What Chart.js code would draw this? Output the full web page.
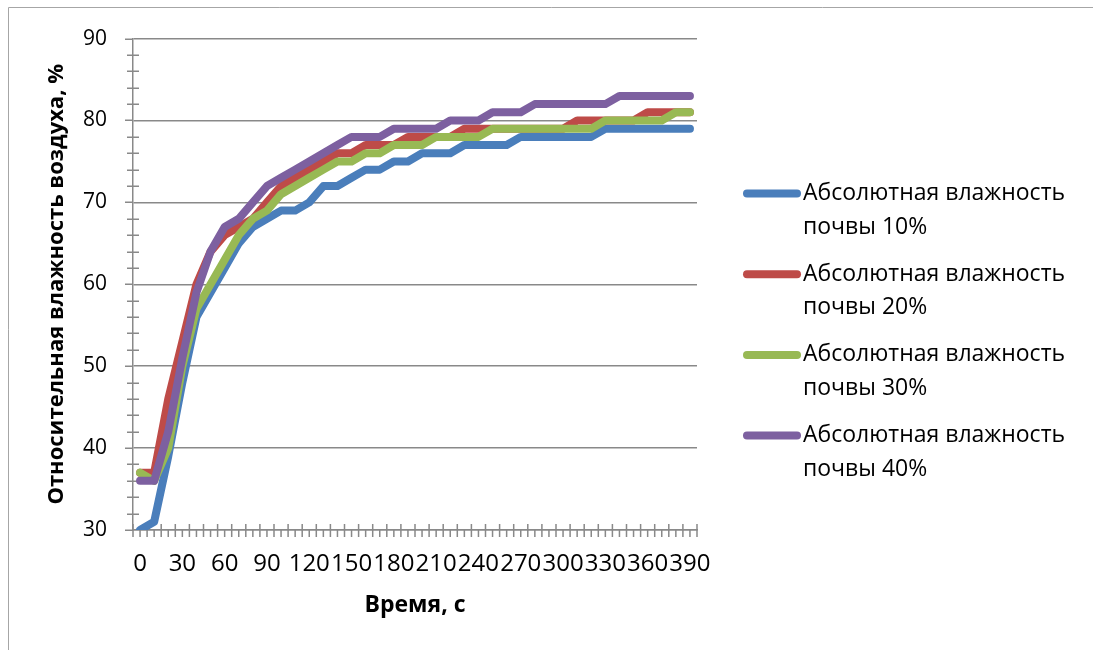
<!DOCTYPE html>
<html>
<head>
<meta charset="utf-8">
<script src="https://cdn.jsdelivr.net/npm/chart.js@4.4.1/dist/chart.umd.min.js"></script>
<style>
html,body{margin:0;padding:0;background:#fff;}
#wrap{position:relative;width:1093px;height:650px;}
</style>
</head>
<body>
<div id="wrap"><canvas id="c"></canvas></div>
<script>
// ---- data ----
const times = [0,10,20,30,40,50,60,70,80,90,100,110,120,130,140,150,160,170,180,190,200,210,220,230,240,250,260,270,280,290,300,310,320,330,340,350,360,370,380,390];
const soil10 = [30,31,39,48,56,59,62,65,67,68,69,69,70,72,72,73,74,74,75,75,76,76,76,77,77,77,77,78,78,78,78,78,78,79,79,79,79,79,79,79];
const soil20 = [37,37,46,53,60,64,66,67,68,70,72,73,74,75,76,76,77,77,77,78,78,78,78,79,79,79,79,79,79,79,79,80,80,80,80,80,81,81,81,81];
const soil30 = [37,36,40,50,57,60,63,66,68,69,71,72,73,74,75,75,76,76,77,77,77,78,78,78,78,79,79,79,79,79,79,79,79,80,80,80,80,80,81,81];
const soil40 = [36,36,42,51,59,64,67,68,70,72,73,74,75,76,77,78,78,78,79,79,79,79,80,80,80,81,81,81,82,82,82,82,82,82,83,83,83,83,83,83];
const seriesNames = [
  ['Абсолютная влажность','почвы 10%'],
  ['Абсолютная влажность','почвы 20%'],
  ['Абсолютная влажность','почвы 30%'],
  ['Абсолютная влажность','почвы 40%']
];
const seriesColors = ['#4A7EBB','#BE4B48','#98B954','#7D60A0'];
const yTitle = 'Относительная влажность воздуха, %';
const xTitle = 'Время, с';
const yMin = 30, yMax = 90, yStep = 10, yMinorStep = 2;
const xLabelEvery = 3;

const gridColor = '#898989';
const FONT = "'Open Sans', 'DejaVu Sans', sans-serif";
Chart.defaults.font.family = FONT;
Chart.defaults.color = '#000';

const values = [soil10, soil20, soil30, soil40];

const decor = {
  id: 'decor',
  beforeDraw(chart) {
    const ctx = chart.ctx;
    ctx.save();
    ctx.strokeStyle = '#a6a6a6';
    ctx.lineWidth = 1;
    ctx.beginPath();
    ctx.moveTo(8.5, 700);
    ctx.lineTo(8.5, 7.5);
    ctx.lineTo(1200, 7.5);
    ctx.stroke();
    ctx.restore();
  },
  beforeDatasetsDraw(chart) {
    const ctx = chart.ctx;
    const xs = chart.scales.x, ys = chart.scales.y;
    const ca = chart.chartArea;
    ctx.save();
    ctx.strokeStyle = gridColor;
    ctx.lineWidth = 1.5;
    ctx.beginPath();
    for (let v = yMin; v <= yMax + 1e-9; v += yMinorStep) {
      const py = Math.round(ys.getPixelForValue(v)) + 0.25;
      if ((v - yMin) % yStep === 0) {
        ctx.moveTo(ca.left - 8, py); ctx.lineTo(ca.left, py);
      } else {
        ctx.moveTo(ca.left - 6, py); ctx.lineTo(ca.left + 6, py);
      }
    }
    const n = times.length;
    const w = (xs.getPixelForValue(1) - xs.getPixelForValue(0));
    for (let i = 0; i <= n; i++) {
      const px = xs.getPixelForValue(0) - w / 2 + i * w;
      ctx.moveTo(px, ca.bottom - 6); ctx.lineTo(px, ca.bottom + 7);
      if (i < n) {
        const pc = xs.getPixelForValue(i);
        ctx.moveTo(pc, ca.bottom); ctx.lineTo(pc, ca.bottom + 7);
      }
    }
    ctx.stroke();
    ctx.restore();
  },
  afterDraw(chart) {
    const ctx = chart.ctx;
    ctx.save();
    chart.data.datasets.forEach((ds, i) => {
      const y1 = 193.5 + 80.7 * i;
      ctx.strokeStyle = ds.borderColor;
      ctx.lineWidth = 8;
      ctx.lineCap = 'round';
      ctx.beginPath();
      ctx.moveTo(747, y1); ctx.lineTo(797, y1);
      ctx.stroke();
      ctx.fillStyle = '#000';
      ctx.font = "23px " + FONT;
      ctx.textBaseline = 'middle';
      ctx.textAlign = 'left';
      ds.legendLines.forEach((t, k) => ctx.fillText(t, 803, y1 + k * 33.5));
    });
    ctx.restore();
  }
};

new Chart(document.getElementById('c'), {
  type: 'line',
  data: {
    labels: times.map(String),
    datasets: values.map((arr, i) => ({
      label: seriesNames[i].join(' '),
      legendLines: seriesNames[i],
      data: arr,
      borderColor: seriesColors[i],
      backgroundColor: seriesColors[i],
      borderWidth: 8,
      borderCapStyle: 'round',
      borderJoinStyle: 'round',
      pointRadius: 0,
      pointHoverRadius: 0,
      tension: 0,
      fill: false,
      order: 4 - i
    }))
  },
  options: {
    responsive: true,
    maintainAspectRatio: false,
    animation: false,
    events: [],
    layout: { padding: { left: 40, top: 38, right: 396, bottom: 0 } },
    plugins: { legend: { display: false }, tooltip: { enabled: false } },
    scales: {
      x: {
        type: 'category',
        offset: true,
        grid: { display: false, drawTicks: false },
        border: { display: true, color: gridColor, width: 1.5 },
        ticks: {
          autoSkip: false, maxRotation: 0, minRotation: 0,
          padding: 20,
          font: { size: 24 },
          callback: function(v, idx) { return idx % xLabelEvery === 0 ? this.getLabelForValue(v) : ''; }
        },
        title: { display: true, text: xTitle, font: { size: 23, weight: 'bold' }, padding: { top: 0, bottom: 31 } },
        afterFit(s) { s.height = 120; }
      },
      y: {
        min: yMin, max: yMax,
        grid: { color: gridColor, lineWidth: 1.5, drawTicks: false },
        border: { display: true, color: gridColor, width: 1.5 },
        ticks: { stepSize: yStep, padding: 26, font: { size: 21 } },
        title: { display: true, text: yTitle, font: { size: 22, weight: 'bold' }, padding: { top: 4, bottom: 0 } },
        afterFit(s) { s.width = 93; }
      }
    }
  },
  plugins: [decor]
});
</script>
</body>
</html>
